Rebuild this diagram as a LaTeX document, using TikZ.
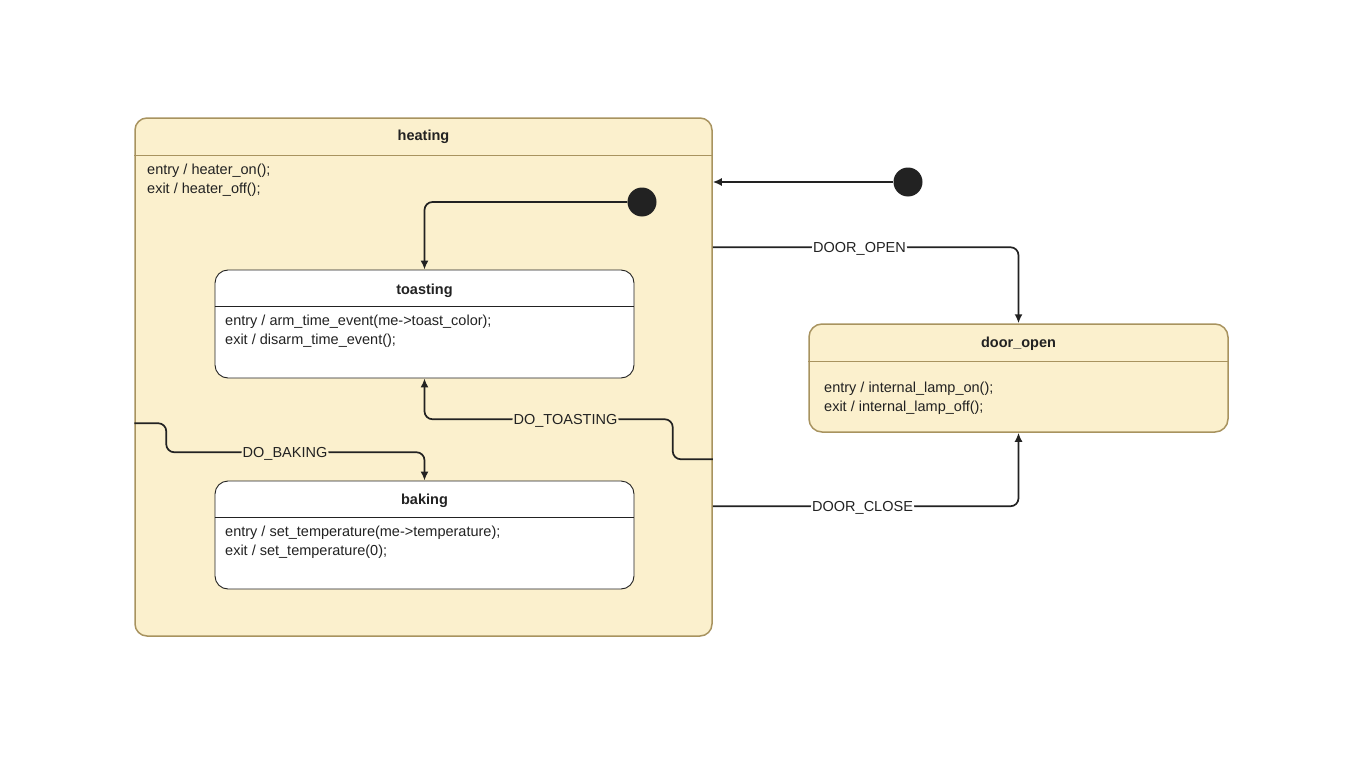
\documentclass[tikz,border=0pt]{standalone}
\usepackage{fontspec}
\setmainfont{Liberation Sans}
\usepackage{tikz}
\usetikzlibrary{
  arrows.meta,
  positioning,
  calc
}
\definecolor{stFill}{HTML}{FBF0CD}
\definecolor{stEdge}{HTML}{A8935F}
\definecolor{stInk}{HTML}{222222}
\tikzset{
  stnode/.style={
    draw, rounded corners=13pt, inner sep=0pt, line width=1.5pt,
    minimum width=419pt, minimum height=108pt
  },
  compound/.style={stnode, fill=stFill, draw=stEdge},
  simple/.style={stnode, fill=white, draw=stInk, line width=0.9pt},
  sttitle/.style={font=\fontsize{14.5}{17}\selectfont\bfseries, text=stInk, inner sep=0pt},
  stbody/.style={font=\fontsize{14.5}{19}\selectfont, text=stInk, align=left, anchor=west, inner sep=0pt},
  sep/.style={line width=1pt},
  initial/.style={circle, fill=stInk, minimum size=29pt, inner sep=0pt},
  trans/.style={-{Latex[length=9pt,width=8pt]}, line width=1.7pt, stInk, rounded corners=8pt},
  trlabel/.style={font=\fontsize{14.5}{17}\selectfont, text=stInk, fill=white, inner sep=1.5pt, yshift=-2pt},
  inlabel/.style={trlabel, fill=stFill}
}
\begin{document}
\begin{tikzpicture}[x=1pt, y=-1pt]
  \useasboundingbox (0,0) rectangle (1366,768);
  % outer states
  \node[compound, rounded corners=12pt, minimum width=577pt, minimum height=518pt] (heating) at (423.5,377) {};
  \draw[sep, stEdge] ([yshift=-38pt]heating.north west) -- ([yshift=-38pt]heating.north east);
  \node[sttitle] (heating_title) at ([yshift=-19.5pt]heating.north) {heating};
  \node[stbody] (heating_body) at (147,180) {entry / heater\_on();\\exit / heater\_off();};
  \node[compound] (door_open) at (1018.5,378) {};
  \draw[sep, stEdge] ([yshift=-38pt]door_open.north west) -- ([yshift=-38pt]door_open.north east);
  \node[sttitle] (door_open_title) at ([yshift=-20.5pt]door_open.north) {door\_open};
  \node[stbody] (door_open_body) at (824,398) {entry / internal\_lamp\_on();\\exit / internal\_lamp\_off();};
  % substates
  \node[simple] (toasting) at (424.5,324) {};
  \draw[sep, stInk] ([yshift=-37pt]toasting.north west) -- ([yshift=-37pt]toasting.north east);
  \node[sttitle] (toasting_title) at ([yshift=-21pt]toasting.north) {toasting};
  \node[stbody] (toasting_body) at (225,331) {entry / arm\_time\_event(me->toast\_color);\\exit / disarm\_time\_event();};
  \node[simple] (baking) at (424.5,535) {};
  \draw[sep, stInk] ([yshift=-37pt]baking.north west) -- ([yshift=-37pt]baking.north east);
  \node[sttitle] (baking_title) at ([yshift=-20pt]baking.north) {baking};
  \node[stbody] (baking_body) at (225,542) {entry / set\_temperature(me->temperature);\\exit / set\_temperature(0);};
  % initial pseudostates
  \node[initial] (outer_init) at (908,182) {};
  \node[initial] (heating_init) at (642,202) {};
  % transitions
  \draw[trans] (outer_init) -- (outer_init -| heating.east);
  \draw[trans] (heating_init.west) -| (toasting.north);
  \draw[trans] ([yshift=-130pt]heating.north east) -| (door_open.north)
    node[trlabel, pos=0.24] (door_open_lbl) {DOOR\_OPEN};
  \draw[trans] ([yshift=-389pt]heating.north east) -| (door_open.south)
    node[trlabel, pos=0.245] (door_close_lbl) {DOOR\_CLOSE};
  \draw[trans] ([yshift=-342pt]heating.north east) -| ++(-40pt,40pt) -| (toasting.south)
    node[inlabel, pos=0.216] (do_toasting_lbl) {DO\_TOASTING};
  \draw[trans] ([yshift=-306pt]heating.north west) -| ++(32pt,-29pt) -| (baking.north)
    node[inlabel, pos=0.23] (do_baking_lbl) {DO\_BAKING};
\end{tikzpicture}
\end{document}
